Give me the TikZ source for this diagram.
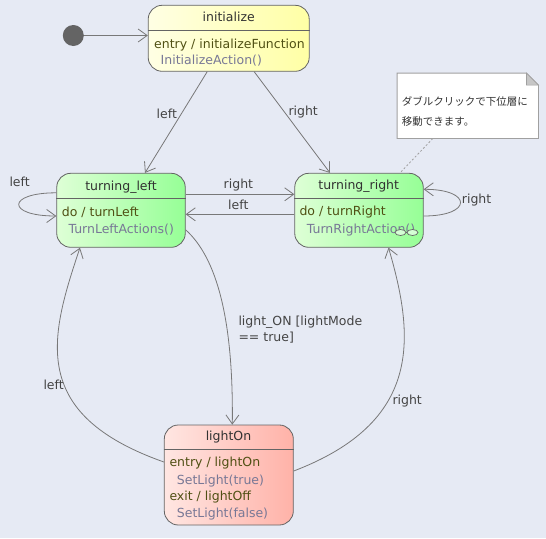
\documentclass[tikz,border=0pt]{standalone}
\usepackage{fontspec}
\setmainfont{DejaVu Sans}
\newfontfamily\jpfont{Noto Sans CJK JP}
\usetikzlibrary{arrows.meta}
\definecolor{bg}{RGB}{230,234,244}
\definecolor{yl}{RGB}{255,255,228}
\definecolor{yr}{RGB}{255,255,165}
\definecolor{gl}{RGB}{222,255,214}
\definecolor{gr}{RGB}{150,255,150}
\definecolor{rl}{RGB}{255,230,226}
\definecolor{rr}{RGB}{255,178,168}
\definecolor{bord}{RGB}{100,100,100}
\definecolor{edgec}{RGB}{120,120,120}
\definecolor{titlec}{RGB}{50,50,50}
\definecolor{actc}{RGB}{80,80,20}
\definecolor{callc}{RGB}{120,120,150}
\definecolor{lblc}{RGB}{68,68,68}
\definecolor{notec}{RGB}{160,160,160}
\begin{document}
\begin{tikzpicture}[x=1pt,y=-1pt,
  every node/.style={font=\fontsize{12.5}{15}\selectfont},
  state/.style={draw=bord, line width=0.8pt, rounded corners=14pt, inner sep=0pt},
  divider/.style={draw=bord, line width=0.8pt},
  ttl/.style={anchor=base, inner sep=0pt, text=titlec},
  act/.style={anchor=base west, inner sep=0pt, text=actc},
  call/.style={anchor=base west, inner sep=0pt, text=callc},
  lbl/.style={anchor=base west, inner sep=0pt, text=lblc},
  trans/.style={draw=edgec, line width=0.8pt, -{Straight Barb[length=9pt,width=13pt]}}
]
\fill[bg] (0,0) rectangle (546,538);
\useasboundingbox (0,0) rectangle (546,538);

% initial pseudostate
\node[circle, fill=bord, inner sep=0pt, minimum size=21pt] (start) at (73.3,35.5) {};

% states
\node[state, left color=yl, right color=yr, minimum width=161pt, minimum height=66pt] (init) at (228.7,38.3) {};
\draw[divider] (init.west |- 0,30.7) -- (init.east |- 0,30.7);
\node[ttl] (initT) at (228.7,21) {initialize};
\node[act] (initA) at (154,48.3) {entry / initializeFunction};
\node[call] (initC) at (160.5,64.3) {InitializeAction()};

\node[state, left color=gl, right color=gr, minimum width=128.5pt, minimum height=74pt] (tl) at (121,210.3) {};
\draw[divider] (tl.west |- 0,198.3) -- (tl.east |- 0,198.3);
\node[ttl] (tlT) at (121,190) {turning\_left};
\node[act] (tlA) at (61.7,216) {do / turnLeft};
\node[call] (tlC) at (68.3,233.3) {TurnLeftActions()};

\node[state, left color=gl, right color=gr, minimum width=128.5pt, minimum height=74pt] (tr) at (359,210.3) {};
\draw[divider] (tr.west |- 0,198.3) -- (tr.east |- 0,198.3);
\node[ttl] (trT) at (358.7,189.5) {turning\_right};
\node[act] (trA) at (299.3,215.5) {do / turnRight};
\node[call] (trC) at (306.7,233.3) {TurnRightAction()};
% composite icon
\draw[bord, line width=0.7pt, fill=white!60!gr] (400.5,232.5) ellipse (5.5pt and 3pt);
\draw[bord, line width=0.7pt, fill=white!60!gr] (412.5,232.5) ellipse (5.5pt and 3pt);
\draw[bord, line width=0.7pt] (406,232.5) -- (407,232.5);

\node[state, left color=rl, right color=rr, minimum width=129pt, minimum height=100pt] (lo) at (228.8,475) {};
\draw[divider] (lo.west |- 0,449.3) -- (lo.east |- 0,449.3);
\node[ttl] (loT) at (228.5,440) {lightOn};
\node[act] (loA) at (169.3,466.7) {entry / lightOn};
\node[call] (loB) at (176.7,484) {SetLight(true)};
\node[act] (loC) at (169.3,500.7) {exit / lightOff};
\node[call] (loD) at (176.7,517.3) {SetLight(false)};

% note
\node[inner sep=0pt, minimum width=141pt, minimum height=65pt] (note) at (467.8,105.8) {};
\draw[notec, fill=white, line width=0.8pt] (note.north west) -- ([xshift=-12pt]note.north east) -- ([yshift=-12pt]note.north east) -- (note.south east) -- (note.south west) -- cycle;
\draw[notec, fill=notec!60, line width=0.6pt] ([xshift=-12pt]note.north east) -- ([xshift=-12pt,yshift=-12pt]note.north east) -- ([yshift=-12pt]note.north east) -- cycle;
\node[anchor=base west, inner sep=0pt, text=titlec, font=\jpfont\fontsize{10.5}{13}\selectfont] (n1) at (401.7,105) {ダブルクリックで下位層に};
\node[anchor=base west, inner sep=0pt, text=titlec, font=\jpfont\fontsize{10.5}{13}\selectfont] (n2) at (401.7,125.7) {移動できます。};
\draw[notec, dashed, dash pattern=on 2pt off 2pt, line width=0.8pt] ([xshift=-35pt]note.south) -- ([xshift=41pt]tr.north);

% transitions
\draw[trans] (start) -- (init.west |- start);

\draw[trans] ([xshift=-21.5pt]init.south) -- ([xshift=24pt]tl.north);
\node[lbl] (l1) at (156.5,118.3) {left};
\draw[trans] ([xshift=25.5pt]init.south) -- ([xshift=-29pt]tr.north);
\node[lbl] (l2) at (288.3,115) {right};

\draw[trans] ([yshift=16pt]tl.east) -- ([yshift=16pt]tr.west);
\node[lbl] (l3) at (223.5,188.3) {right};
\draw[trans] ([yshift=-4pt]tr.west) -- ([yshift=-4pt]tl.east);
\node[lbl] (l4) at (228,209) {left};

\draw[trans] ([yshift=17.5pt]tl.west) .. controls +(-50,0) and +(-50,0) .. ([yshift=-5.7pt]tl.west);
\node[lbl] (l5) at (9.3,186.7) {left};
\draw[trans] ([yshift=-5.7pt]tr.east) .. controls +(49,0) and +(49,0) .. ([yshift=21pt]tr.east);
\node[lbl] (l6) at (461.7,203.3) {right};

\draw[trans] ([yshift=-19.5pt]tl.east) .. controls (217,258) and (233.5,320) .. ([xshift=3.5pt]lo.north);
\node[lbl] (l7) at (238.3,325) {light\_ON [lightMode};
\node[lbl] (l8) at (238.3,341.7) {== true]};

\draw[trans] ([yshift=13pt]lo.west) .. controls (28,414) and (50,337) .. ([xshift=-41pt]tl.south);
\node[lbl] (l9) at (43.3,389.3) {left};

\draw[trans] ([yshift=4pt]lo.east) .. controls (422,422) and (415,338) .. ([xshift=29.5pt]tr.south);
\node[lbl] (l10) at (392.3,404.3) {right};
\end{tikzpicture}
\end{document}
